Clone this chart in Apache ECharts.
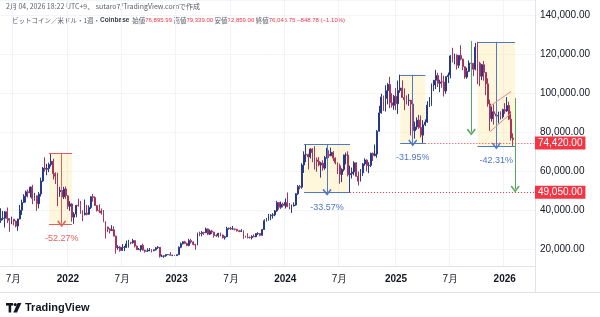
<!DOCTYPE html>
<html>
<head>
<meta charset="utf-8">
<script src="https://cdn.jsdelivr.net/npm/echarts@6/dist/echarts.min.js"></script>
<style>
  html, body { margin: 0; padding: 0; background: #fff; }
  #chart { width: 600px; height: 317px; }
</style>
</head>
<body>
<div id="chart"></div>
<script>
// BTC/USD weekly, Coinbase. Values in thousands of USD, week 0 = 2021-05-24
const firstOpen = 34.7;
const closes = [
  35.7, 35.8, 39.1, 35.6, 34.7, 35.3, 34.3, 31.8, 35.4, 39.9,
  43.8, 47.1, 49.3, 48.8, 51.8, 46.0, 47.3, 43.2, 48.2, 54.9,
  61.5, 60.9, 61.3, 63.3, 65.0, 58.7, 57.3, 49.4, 50.1, 46.7,
  50.8, 47.3, 41.9, 43.1, 36.3, 37.9, 42.4, 42.2, 38.3, 37.7,
  38.4, 37.8, 41.3, 46.8, 46.4, 42.3, 39.7, 39.5, 38.5, 34.1,
  31.3, 30.3, 29.4, 29.9, 26.6, 20.6, 21.0, 19.3, 20.8, 20.8,
  22.6, 23.3, 23.2, 24.3, 21.5, 19.6, 19.8, 21.8, 19.4, 18.8,
  19.0, 19.4, 19.1, 19.6, 20.6, 20.9, 16.3, 16.3, 16.5, 17.1,
  17.1, 16.8, 16.8, 16.6, 17.1, 20.9, 22.7, 23.7, 22.9, 21.8,
  24.3, 23.6, 22.4, 22.1, 28.0, 27.9, 28.5, 28.3, 30.3, 27.6,
  29.2, 28.7, 26.9, 26.8, 28.1, 27.2, 25.8, 26.3, 30.5, 30.6,
  30.2, 30.3, 30.1, 29.3, 29.0, 29.3, 26.1, 26.0, 25.9, 25.8,
  26.5, 26.3, 27.9, 27.9, 27.0, 30.0, 34.5, 35.0, 37.0, 37.3,
  37.5, 39.5, 43.8, 41.4, 43.0, 42.3, 43.9, 41.7, 41.6, 42.1,
  42.6, 48.3, 52.1, 51.7, 63.1, 68.3, 68.4, 67.2, 71.3, 69.4,
  65.7, 64.9, 63.1, 64.0, 61.5, 66.9, 68.5, 67.8, 69.6, 66.6,
  64.2, 62.7, 58.2, 60.8, 68.2, 68.2, 58.1, 58.7, 59.5, 64.2,
  57.3, 54.8, 59.1, 63.6, 65.6, 62.8, 62.9, 69.0, 67.9, 68.7,
  80.4, 89.8, 98.0, 97.2, 101.2, 104.4, 95.0, 93.7, 98.3, 94.5,
  101.3, 102.6, 97.7, 96.5, 96.1, 96.3, 94.3, 80.7, 82.6, 86.1,
  82.3, 78.4, 83.7, 85.1, 93.8, 94.3, 104.1, 106.5, 109.0, 105.0,
  105.7, 105.6, 101.0, 108.4, 109.2, 119.0, 117.3, 119.4, 114.2, 119.3,
  117.4, 113.5, 108.2, 111.1, 115.3, 115.2, 112.2, 123.5, 115.2, 108.6,
  114.5, 110.5, 104.7, 94.4, 86.8, 90.4, 89.3, 88.2, 88.5, 87.8,
  91.5, 90.8, 93.6, 86.6, 76.896, 76.04675
];
const highs = [
  40.9, 39.5, 39.4, 41.3, 35.7, 36.6, 35.1, 34.6, 35.5, 42.6,
  45.3, 48.1, 50.0, 50.5, 52.0, 52.9, 48.8, 47.4, 49.2, 56.6,
  62.0, 67.0, 63.7, 64.3, 68.99, 66.3, 59.3, 59.1, 51.9, 50.5,
  51.9, 52.1, 47.5, 44.5, 43.5, 38.9, 42.6, 45.8, 44.7, 39.9,
  45.4, 42.6, 42.4, 47.0, 48.2, 47.0, 42.4, 42.9, 40.8, 40.0,
  34.2, 31.4, 30.6, 32.2, 31.6, 26.8, 21.9, 21.5, 22.5, 21.6,
  24.3, 24.7, 23.7, 25.2, 24.4, 21.8, 20.5, 21.9, 22.7, 19.7,
  20.4, 20.5, 19.9, 19.7, 21.0, 21.5, 21.0, 17.2, 16.7, 17.4,
  17.4, 18.4, 17.0, 16.9, 17.2, 21.3, 23.4, 23.9, 24.2, 23.2,
  25.2, 25.2, 23.9, 22.6, 28.4, 28.9, 29.2, 28.8, 31.0, 30.5,
  30.0, 29.8, 28.8, 27.6, 28.2, 28.4, 27.4, 26.8, 31.4, 31.0,
  31.4, 31.8, 30.4, 30.3, 29.8, 30.2, 29.6, 26.8, 28.1, 26.4,
  27.0, 27.5, 28.0, 28.6, 28.0, 30.3, 35.2, 35.9, 38.0, 37.9,
  38.4, 40.0, 44.7, 44.0, 44.3, 43.8, 45.9, 49.0, 43.6, 42.8,
  43.9, 48.6, 52.8, 52.9, 64.0, 70.1, 73.835, 68.9, 71.6, 71.7,
  72.7, 66.9, 67.2, 64.7, 65.5, 67.7, 71.9, 70.6, 72.0, 70.2,
  67.0, 64.5, 63.8, 61.4, 68.4, 69.4, 70.1, 62.7, 61.8, 65.0,
  64.5, 59.8, 61.0, 64.1, 66.5, 66.0, 64.5, 69.4, 69.5, 73.6,
  81.0, 93.4, 99.6, 98.7, 104.0, 105.1, 108.3, 99.9, 99.0, 102.5,
  106.4, 109.36, 106.5, 102.4, 98.8, 99.5, 96.5, 95.0, 85.3, 87.5,
  88.8, 88.5, 86.1, 86.5, 95.8, 97.9, 104.9, 106.7, 111.9, 110.4,
  106.8, 110.4, 108.9, 108.5, 110.5, 119.5, 123.2, 120.2, 119.8, 119.4,
  124.5, 117.6, 113.7, 113.0, 116.7, 117.9, 115.5, 125.7, 126.272, 116.0,
  114.9, 116.4, 110.8, 107.5, 96.6, 93.1, 94.2, 94.6, 90.4, 90.6,
  91.9, 94.8, 97.9, 95.5, 90.6, 79.339
];
const lows = [
  33.4, 34.8, 31.0, 33.3, 28.8, 32.7, 32.1, 31.1, 29.3, 35.2,
  37.5, 43.7, 43.9, 46.4, 46.5, 43.0, 44.7, 39.6, 40.8, 46.9,
  54.4, 59.7, 57.8, 59.4, 62.3, 55.6, 53.3, 42.0, 46.8, 45.5,
  45.6, 45.7, 40.5, 39.6, 34.0, 32.93, 36.3, 41.7, 38.0, 34.3,
  37.2, 37.2, 37.6, 40.5, 44.3, 42.1, 39.2, 38.5, 37.6, 33.7,
  25.4, 28.6, 28.0, 29.3, 26.5, 17.6, 19.6, 18.6, 19.0, 18.9,
  20.6, 20.7, 22.4, 22.7, 20.8, 19.5, 19.5, 18.6, 19.3, 18.1,
  18.5, 18.9, 18.2, 18.9, 19.2, 20.1, 15.6, 15.8, 15.5, 16.0,
  16.9, 16.6, 16.3, 16.4, 16.5, 17.0, 20.4, 22.3, 22.6, 21.4,
  21.4, 22.8, 21.9, 19.6, 21.9, 26.6, 26.5, 27.2, 28.2, 27.1,
  27.2, 27.7, 25.8, 26.2, 25.9, 26.5, 25.4, 24.8, 26.2, 29.9,
  29.7, 29.9, 29.5, 29.0, 28.6, 28.7, 25.2, 25.8, 25.4, 25.4,
  24.9, 26.0, 26.0, 27.2, 26.5, 26.9, 29.9, 34.1, 34.5, 34.8,
  35.6, 36.8, 39.0, 40.2, 40.6, 41.3, 40.8, 41.5, 40.3, 38.5,
  41.8, 42.2, 47.7, 50.6, 50.9, 59.0, 64.5, 60.8, 66.4, 64.5,
  60.7, 59.6, 62.4, 56.6, 60.2, 60.6, 66.3, 66.7, 67.6, 65.1,
  63.4, 58.4, 53.5, 54.3, 59.8, 63.4, 57.2, 49.05, 56.1, 57.8,
  57.1, 52.6, 54.6, 57.5, 62.7, 59.8, 58.9, 62.0, 65.1, 67.5,
  66.8, 80.2, 89.4, 90.8, 90.5, 94.2, 92.2, 92.5, 91.4, 91.2,
  89.3, 100.1, 97.6, 91.2, 94.1, 93.4, 78.2, 80.1, 76.6, 81.2,
  81.6, 77.2, 74.42, 83.1, 84.8, 92.8, 93.4, 101.0, 102.0, 103.1,
  100.4, 102.7, 98.2, 99.6, 105.1, 107.5, 115.7, 114.7, 112.0, 112.7,
  116.8, 111.7, 107.3, 107.3, 110.7, 114.7, 108.6, 111.6, 104.5, 103.5,
  106.6, 106.3, 98.9, 93.0, 80.6, 85.3, 83.8, 87.6, 84.4, 86.4,
  86.9, 89.3, 90.3, 86.1, 75.6, 72.859
];

// weekly categories, including empty weeks to the right of the last candle
const totalWeeks = 256;
const categories = [];
for (let i = 0; i < totalWeeks; i++) {
  categories.push(new Date(Date.UTC(2021, 4, 24 + i * 7)).toISOString().slice(0, 10));
}

// price range drawings: [start week, end week, arrow week, top, bottom, text]
const ranges = [
  [23, 34, 29, 68990, 32929, '-52.27%'],
  [145, 167, 156, 73835, 49050, '-33.57%'],
  [191, 203, 197, 109360, 74420, '-31.95%'],
  [228, 246, 237, 126272, 72859, '-42.31%']
];
const rangeColors = ['#e0605e', '#4f78c8', '#4f78c8', '#4f78c8'];
// green projection arrows: [week, from, to]
const projections = [[225, 126700, 80000], [246, 97400, 50800]];
// bear flag channel: [week a, value a, week b, value b]
const channel = [[234, 93300, 244, 100700], [234, 80200, 244, 89600]];
// horizontal price lines: [from week, price]
const priceLines = [[203, 74420], [167, 49050]];

const candles = closes.map((c, i) => [
  (i === 0 ? firstOpen : closes[i - 1]) * 1000, c * 1000, lows[i] * 1000, highs[i] * 1000
]);

const chevron = 'path://M5,0L10,6L8.8,7.2L5,2.6L1.2,7.2L0,6Z';
function seg(a, b, color, arrow) {
  const ls = { color: color, width: 1, type: 'solid' };
  return [
    { coord: [categories[a[0]], a[1]], symbol: 'none', lineStyle: ls },
    { coord: [categories[b[0]], b[1]], symbol: arrow ? chevron : 'none', symbolSize: [9, 7], lineStyle: ls }
  ];
}

const lines = [];
ranges.forEach((r, k) => {
  const col = rangeColors[k];
  lines.push(seg([r[0], r[3]], [r[1], r[3]], col));
  lines.push(seg([r[0], r[4]], [r[1], r[4]], col));
  lines.push(seg([r[2], r[3]], [r[2], r[4]], col, true));
});
projections.forEach(p => lines.push(seg([p[0], p[1]], [p[0], p[2]], '#55a85a', true)));
channel.forEach(c => lines.push(seg([c[0], c[1]], [c[2], c[3]], '#e58a7c')));
priceLines.forEach(p => {
  const ls = { color: '#f23645', width: 1, type: [1, 2] };
  const lab = {
    show: true, position: 'end', distance: 1,
    formatter: p[1].toLocaleString('en-US', { minimumFractionDigits: 2 }),
    backgroundColor: '#f23645', color: '#fff', padding: [2, 3, 1, 3],
    fontSize: 10, fontFamily: 'Liberation Sans'
  };
  lines.push([
    { coord: [categories[p[0]], p[1]], symbol: 'none', lineStyle: ls, label: lab },
    { coord: [categories[totalWeeks - 1], p[1]], symbol: 'none', lineStyle: ls, label: lab }
  ]);
});

function isLabelWeek(idx) {
  if (idx === 0) return false;
  const m = categories[idx].slice(5, 7), pm = categories[idx - 1].slice(5, 7);
  return m !== pm && (m === '01' || m === '07');
}

const chart = echarts.init(document.getElementById('chart'));
chart.setOption({
  animation: false,
  backgroundColor: '#fff',
  grid: { left: -2, right: 65, top: 0, bottom: 51 },
  xAxis: {
    type: 'category',
    data: categories,
    boundaryGap: true,
    axisLine: { lineStyle: { color: '#e0e3eb' } },
    axisTick: { show: false },
    axisLabel: {
      interval: isLabelWeek,
      margin: 8,
      color: '#131722',
      fontSize: 10,
      fontFamily: 'Liberation Sans',
      formatter: v => v.slice(5, 7) === '01' ? '{y|' + v.slice(0, 4) + '}' : '7月',
      rich: { y: { fontWeight: 'bold', fontSize: 10, fontFamily: 'Liberation Sans', color: '#131722' } }
    },
    splitLine: { show: true, interval: isLabelWeek, lineStyle: { color: '#f0f3fa' } }
  },
  yAxis: {
    type: 'value',
    position: 'right',
    min: 11280,
    max: 147700,
    splitNumber: 7,
    axisLine: { show: true, lineStyle: { color: '#e0e3eb' } },
    axisTick: { show: false },
    axisLabel: {
      showMinLabel: false,
      showMaxLabel: false,
      margin: 5,
      color: '#131722',
      fontSize: 10,
      fontFamily: 'Liberation Sans',
      formatter: v => v.toLocaleString('en-US', { minimumFractionDigits: 2 })
    },
    splitLine: { show: true, lineStyle: { color: '#f3f4f8' } }
  },
  series: [{
    type: 'candlestick',
    data: candles,
    barWidth: '66%',
    itemStyle: {
      color: '#26398a', color0: '#a8345c',
      borderColor: '#26398a', borderColor0: '#a8345c', borderWidth: 1
    },
    markArea: {
      silent: true,
      itemStyle: { color: 'rgba(255,226,130,0.28)' },
      data: ranges.map(r => [
        { coord: [categories[r[0]], r[3]] },
        { coord: [categories[r[1]], r[4]] }
      ])
    },
    markLine: {
      silent: true,
      symbol: ['none', 'none'],
      label: { show: false },
      emphasis: { disabled: true },
      data: lines
    },
    markPoint: {
      silent: true,
      symbol: 'circle',
      symbolSize: 1,
      itemStyle: { color: 'rgba(0,0,0,0)' },
      data: ranges.map((r, k) => ({
        coord: [categories[r[2]], r[4]],
        label: {
          show: true, formatter: r[5], color: rangeColors[k], fontSize: 9,
          fontFamily: 'Liberation Sans', offset: [0, 15]
        }
      }))
    }
  }],
  graphic: [
    { type: 'text', left: 6, top: 3,
      style: { text: '2月 04, 2026 18:22 UTC+9、 sutaro7/TradingView.comで作成',
        fill: '#5d606b', fontSize: 7, fontFamily: 'Noto Sans CJK JP' } },
    { type: 'text', left: 12, top: 17,
      style: {
        text: '{g|ビットコイン／米ドル・1週・}{b|Coinbase}{g|  始値}{r|76,895.99}{g| 高値}{r|79,339.00}{g| 安値}{r|72,859.00}{g| 終値}{r|76,046.75 −848.78 (−1.10%)}',
        rich: {
          g: { fill: '#5d606b', fontSize: 6.5, fontFamily: 'Noto Sans CJK JP' },
          b: { fill: '#3d404b', fontSize: 6.5, fontWeight: 'bold', fontFamily: 'Liberation Sans' },
          r: { fill: '#f23645', fontSize: 6, fontFamily: 'Liberation Sans' }
        }
      } },
    { type: 'line', shape: { x1: 0, y1: 292.5, x2: 600, y2: 292.5 }, style: { stroke: '#e0e3eb' } },
    { type: 'line', shape: { x1: 535.5, y1: 266, x2: 535.5, y2: 292 }, style: { stroke: '#e0e3eb' } },
    { type: 'rect', shape: { x: 6, y: 303, width: 7, height: 2.6 }, style: { fill: '#131722' } },
    { type: 'rect', shape: { x: 8.6, y: 303, width: 2.6, height: 9.5 }, style: { fill: '#131722' } },
    { type: 'circle', shape: { cx: 15.2, cy: 304.6, r: 1.6 }, style: { fill: '#131722' } },
    { type: 'polygon', shape: { points: [[17.6, 303], [21.4, 303], [17, 312.5], [13.3, 312.5]] }, style: { fill: '#131722' } },
    { type: 'text', left: 25, top: 302,
      style: { text: 'TradingView', fill: '#131722', fontSize: 11, fontWeight: 'bold', fontFamily: 'Liberation Sans' } }
  ]
});
</script>
</body>
</html>
